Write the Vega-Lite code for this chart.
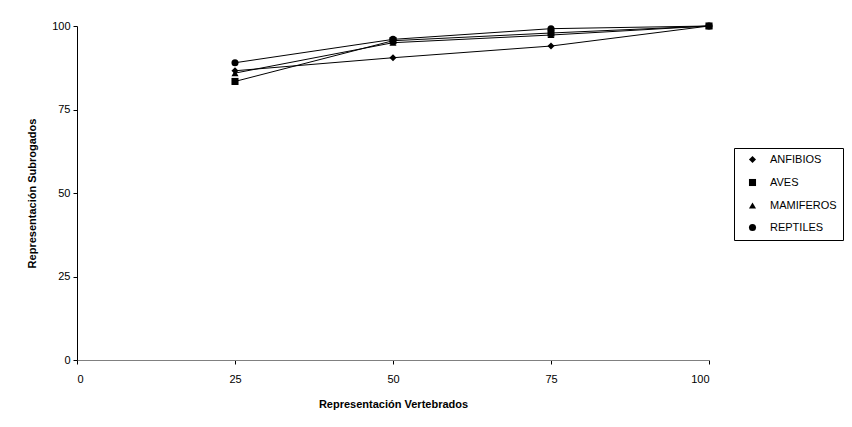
{
  "$schema": "https://vega.github.io/schema/vega-lite/v6.json",
  "width": 632,
  "height": 334,
  "autosize": {"type": "none"},
  "padding": {"left": 77, "top": 26, "right": 143, "bottom": 67},
  "background": "white",
  "config": {
    "font": "Liberation Sans",
    "view": {"stroke": null},
    "axis": {"grid": false, "labelFont": "Liberation Sans", "labelFontSize": 11, "labelColor": "black", "titleFont": "Liberation Sans", "titleFontSize": 11, "titleFontWeight": "bold", "titleColor": "black", "tickColor": "black", "domainColor": "black", "tickSize": 4}
  },
  "data": {"values": [
    {"x": 25, "y": 86.6, "serie": "ANFIBIOS"},
    {"x": 50, "y": 90.5, "serie": "ANFIBIOS"},
    {"x": 75, "y": 94.0, "serie": "ANFIBIOS"},
    {"x": 100, "y": 100, "serie": "ANFIBIOS"},
    {"x": 25, "y": 83.4, "serie": "AVES"},
    {"x": 50, "y": 95.6, "serie": "AVES"},
    {"x": 75, "y": 97.9, "serie": "AVES"},
    {"x": 100, "y": 100, "serie": "AVES"},
    {"x": 25, "y": 85.9, "serie": "MAMIFEROS"},
    {"x": 50, "y": 95.0, "serie": "MAMIFEROS"},
    {"x": 75, "y": 97.3, "serie": "MAMIFEROS"},
    {"x": 100, "y": 100, "serie": "MAMIFEROS"},
    {"x": 25, "y": 89.0, "serie": "REPTILES"},
    {"x": 50, "y": 96.0, "serie": "REPTILES"},
    {"x": 75, "y": 99.2, "serie": "REPTILES"},
    {"x": 100, "y": 100, "serie": "REPTILES"}
  ]},
  "encoding": {
    "x": {"field": "x", "type": "quantitative", "scale": {"domain": [0, 100], "nice": false}, "axis": {"values": [0, 25, 50, 75, 100], "title": "Representación Vertebrados", "titlePadding": 14, "labelPadding": 9, "domainColor": "#808080"}},
    "y": {"field": "y", "type": "quantitative", "scale": {"domain": [0, 100], "nice": false}, "axis": {"values": [0, 25, 50, 75, 100], "title": "Representación Subrogados", "titlePadding": 14, "labelPadding": 3}}
  },
  "layer": [
    {"mark": {"type": "line", "color": "black", "strokeWidth": 1}, "encoding": {"detail": {"field": "serie"}}},
    {"mark": {"type": "point", "filled": true, "color": "black", "opacity": 1, "size": 50},
     "encoding": {"shape": {"field": "serie", "type": "nominal",
       "scale": {"domain": ["ANFIBIOS", "AVES", "MAMIFEROS", "REPTILES"], "range": ["diamond", "square", "triangle-up", "circle"]},
       "legend": {"title": null, "orient": "none", "legendX": 657, "legendY": 122, "strokeColor": "black", "padding": 6, "symbolOffset": 7, "labelOffset": 12, "labelFont": "Liberation Sans", "labelFontSize": 11, "labelColor": "black", "rowPadding": 10, "symbolSize": 50, "symbolOpacity": 1, "symbolFillColor": "black", "symbolStrokeColor": "black", "symbolStrokeWidth": 1,
         "encode": {"symbols": {
           "shape": {"value": {"expr": "datum.value == 'ANFIBIOS' ? 'M-3.6,0H3.6M0,-1.2L1.2,0L0,1.2L-1.2,0Z' : datum.value == 'AVES' ? 'M-3.6,0H3.6M-1,-1H1V1H-1Z' : datum.value == 'MAMIFEROS' ? 'M-3.6,0H3.6M0,-1.1L1.1,0.9H-1.1Z' : 'M-3.6,0H3.6M1,0A1,1,0,1,1,-1,0A1,1,0,1,1,1,0Z'"}},
           "stroke": {"value": "black"}, "strokeWidth": {"value": 1}, "strokeOpacity": {"value": 1}}}}}}}
  ]
}
